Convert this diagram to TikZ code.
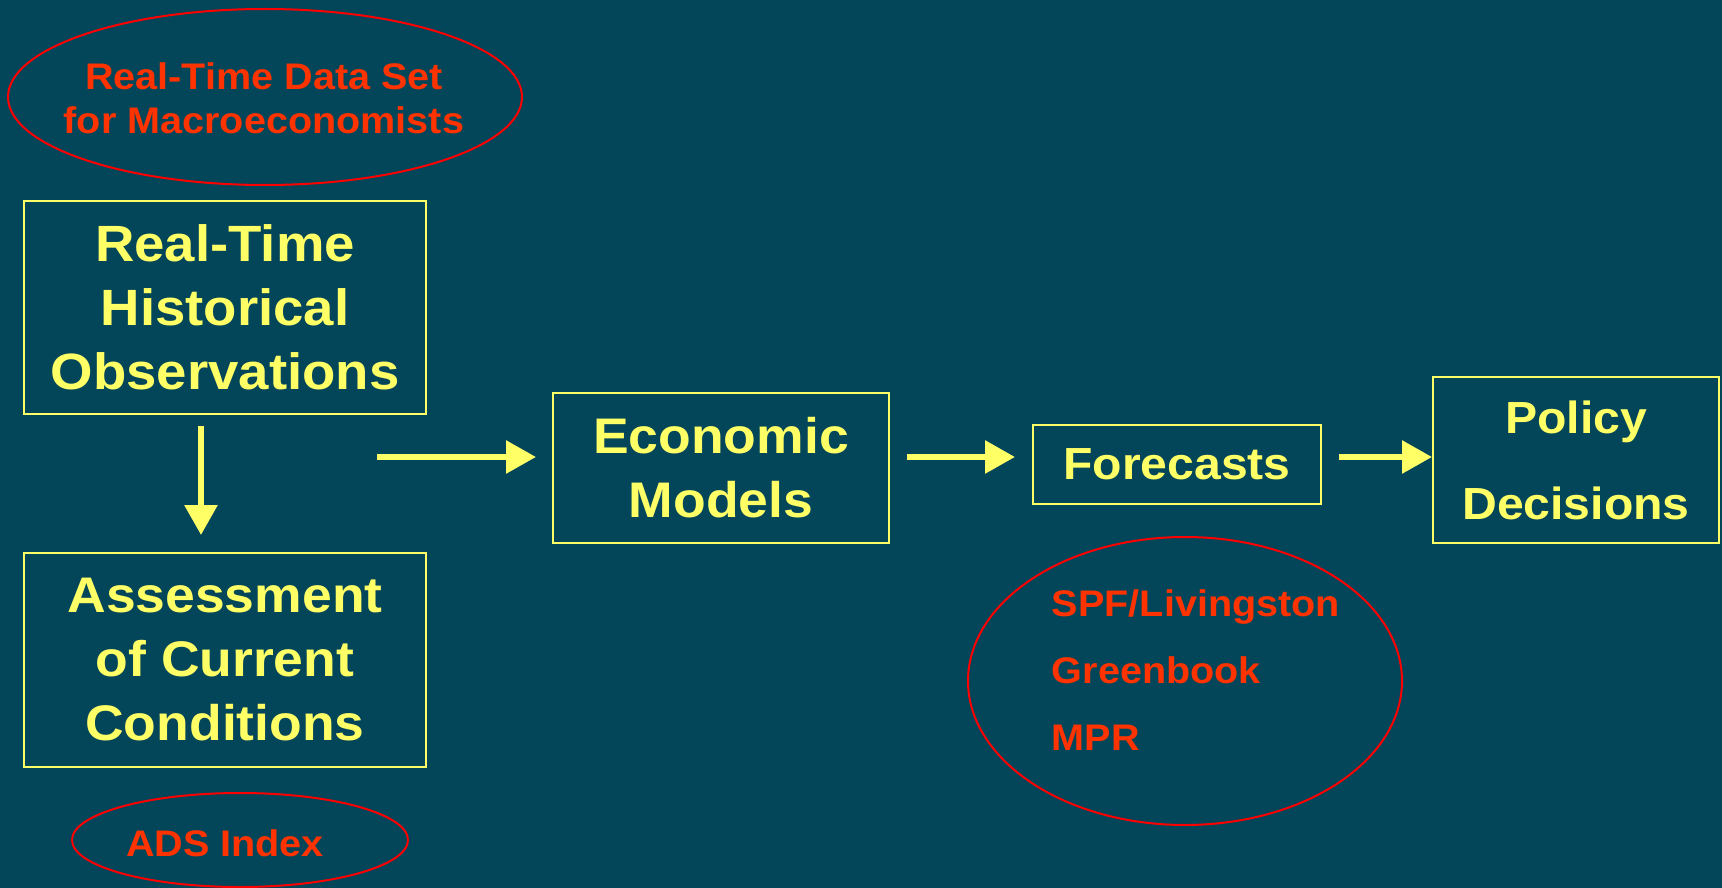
\documentclass[tikz,border=0pt]{standalone}
\usepackage{fontspec}
\setmainfont{Liberation Sans}[FakeStretch=1.07]
\usepackage{tikz}
\usetikzlibrary{positioning,shapes.geometric,arrows.meta}
\definecolor{slideColor}{RGB}{3,69,89}
\definecolor{boxColor}{RGB}{255,255,102}
\definecolor{noteColor}{RGB}{255,51,0}
\definecolor{ringColor}{RGB}{255,0,0}
\tikzstyle{slide} = [x = 1pt, y = -1pt]
\tikzstyle{boxStyle} = [draw=boxColor, line width=2pt, text=boxColor, align=center, inner sep=0pt, font=\bfseries\fontsize{51}{64}\selectfont]
\tikzstyle{ringStyle} = [ellipse, draw=ringColor, line width=2pt, inner sep=0pt]
\tikzstyle{noteText} = [text=noteColor, inner sep=0pt, font=\bfseries\fontsize{37}{44}\selectfont]
\tikzstyle{flowArrow} = [color=boxColor, line width=6pt, -{Triangle[length=30pt, width=32pt]}]

\begin{document}
\begin{tikzpicture}[slide]
  \fill [slideColor] (0,0) rectangle (1722,888);
  \useasboundingbox (0,0) rectangle (1722,888);

  % boxes
  \node [boxStyle, minimum width=402pt, minimum height=213pt] (histObs) at (225,307.5) {Real-Time\\Historical\\Observations};
  \node [boxStyle, minimum width=402pt, minimum height=214pt, font=\bfseries\fontsize{50}{64}\selectfont] (assessCur) at (225,660) {Assessment\\of Current\\Conditions};
  \node [boxStyle, minimum width=336pt, minimum height=150pt, font=\bfseries\fontsize{50}{64}\selectfont] (econModels) at (721,468) {Economic\\Models};
  \node [boxStyle, minimum width=288pt, minimum height=79pt, font=\bfseries\fontsize{45}{64}\selectfont] (forecasts) at (1177,464.5) {Forecasts};
  \node [boxStyle, minimum width=286pt, minimum height=166pt, font=\bfseries\fontsize{45}{86}\selectfont] (policyDec) at (1576,460) {Policy\\Decisions};

  % red notes
  \node [ringStyle, minimum width=514pt, minimum height=176pt] (rtdsmNote) at (265,97) {};
  \node [noteText, align=center] (rtdsmText) at (264,98) {Real-Time Data Set\\for Macroeconomists};
  \node [ringStyle, minimum width=336pt, minimum height=94pt] (adsNote) at (240,840) {};
  \node [noteText] (adsText) at (225,843) {ADS Index};
  \node [ringStyle, minimum width=434pt, minimum height=288pt] (forecastNote) at (1185,681) {};
  \node [noteText, align=left, font=\bfseries\fontsize{37}{67}\selectfont] (forecastList) at (1196,670) {SPF/Livingston\\Greenbook\\MPR};

  % arrows
  \coordinate (modelsFeed) at (377,457);
  \draw [flowArrow] ([xshift=-24pt, yshift=-11pt]histObs.south) -- ([xshift=-24pt, yshift=17pt]assessCur.north);
  \draw [flowArrow, shorten >=16pt] (modelsFeed) -- (econModels.west |- modelsFeed);
  \draw [flowArrow, shorten <=17pt, shorten >=17pt] (econModels.east |- modelsFeed) -- (forecasts.west |- modelsFeed);
  \draw [flowArrow, shorten <=17pt] (forecasts.east |- modelsFeed) -- (policyDec.west |- modelsFeed);
\end{tikzpicture}
\end{document}
